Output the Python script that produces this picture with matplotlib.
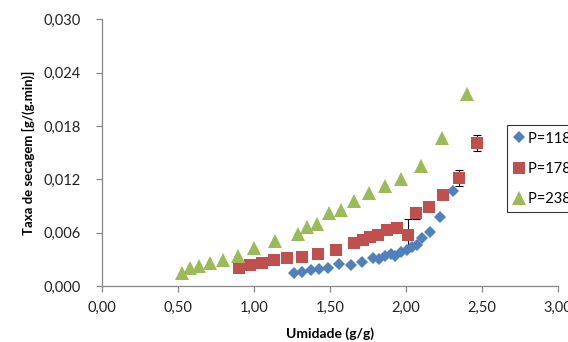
import matplotlib.pyplot as plt
import numpy as np
from matplotlib.ticker import FuncFormatter, MultipleLocator

# moisture content (g/g) and drying rate (g/(g.min)) for each power level
x_118 = [1.267, 1.320, 1.377, 1.432, 1.487, 1.561, 1.638, 1.713, 1.787, 1.824,
         1.864, 1.900, 1.930, 1.966, 2.008, 2.042, 2.072, 2.105, 2.160, 2.226, 2.309]
y_118 = [0.00143, 0.00161, 0.00180, 0.00188, 0.00206, 0.00248, 0.00236, 0.00270,
         0.00315, 0.00304, 0.00332, 0.00360, 0.00338, 0.00377, 0.00405, 0.00433,
         0.00461, 0.00537, 0.00611, 0.00780, 0.01072]

x_178 = [0.905, 0.978, 1.053, 1.134, 1.219, 1.320, 1.425, 1.539, 1.660, 1.717,
         1.768, 1.818, 1.880, 1.945, 2.012, 2.068, 2.155, 2.242, 2.349, 2.467]
y_178 = [0.00206, 0.00234, 0.00259, 0.00289, 0.00309, 0.00330, 0.00363, 0.00408,
         0.00484, 0.00518, 0.00551, 0.00577, 0.00630, 0.00653, 0.00574, 0.00818,
         0.00889, 0.01024, 0.01218, 0.01605]
err_178 = [0, 0, 0, 0, 0, 0, 0, 0, 0, 0,
           0, 0, 0, 0, 0.0018, 0.0007, 0.0006, 0, 0.0009, 0.0009]

x_238 = [0.526, 0.581, 0.642, 0.714, 0.800, 0.895, 1.002, 1.138, 1.293, 1.352,
         1.418, 1.495, 1.574, 1.662, 1.761, 1.862, 1.972, 2.099, 2.237, 2.405]
y_238 = [0.0015, 0.0020, 0.0022, 0.0026, 0.0029, 0.0034, 0.0043, 0.0050, 0.0058,
         0.0066, 0.0070, 0.0082, 0.0085, 0.0096, 0.0104, 0.0112, 0.0120, 0.0135,
         0.0166, 0.0216]

labels = ["P=118 W", "P=178 W", "P=238 W"]

plt.rcParams["font.family"] = ["Lato", "DejaVu Sans"]

fig = plt.figure(figsize=(5.68, 3.42), dpi=100)
ax = fig.add_axes([0.179, 0.164, 0.803, 0.7796])

ax.plot(x_118, y_118, "D", color="#4F81BD", markersize=6.3, markeredgewidth=0,
        label=labels[0], zorder=3)

err = np.array(err_178)
has_err = err > 0
ax.errorbar(np.array(x_178)[has_err], np.array(y_178)[has_err], yerr=err[has_err],
            fmt="none", ecolor="black", elinewidth=0.8, capsize=3, capthick=0.8,
            zorder=1)
ax.plot(x_178, y_178, "s", color="#C0504D", markersize=8.3, markeredgewidth=0,
        label=labels[1], zorder=2)
ax.plot(x_238, y_238, "^", color="#9BBB59", markersize=9.5, markeredgewidth=0,
        label=labels[2], zorder=2)

ax.set_xlim(0, 3.0)
ax.set_ylim(0, 0.030)
ax.xaxis.set_major_locator(MultipleLocator(0.5))
ax.yaxis.set_major_locator(MultipleLocator(0.006))
ax.xaxis.set_major_formatter(FuncFormatter(lambda v, _: f"{v:.2f}".replace(".", ",")))
ax.yaxis.set_major_formatter(FuncFormatter(lambda v, _: f"{v:.3f}".replace(".", ",")))

for side in ["top", "right"]:
    ax.spines[side].set_visible(False)
for side in ["left", "bottom"]:
    ax.spines[side].set_color("#868686")
    ax.spines[side].set_linewidth(0.9)
ax.tick_params(direction="out", length=4, width=0.9, color="#868686",
               labelsize=10.5, labelcolor="#222222")
ax.tick_params(axis="y", pad=11)
ax.tick_params(axis="x", pad=7)

ax.set_xlabel("Umidade (g/g)", fontsize=10, fontweight="bold", labelpad=9)
ax.set_ylabel("Taxa de secagem [g/(g.min)]", fontsize=9.5, fontweight="bold",
              labelpad=6)

leg = fig.legend(loc="upper left", bbox_to_anchor=(0.892, 1 - 125 / 342),
                 bbox_transform=fig.transFigure, frameon=True, fancybox=False,
                 fontsize=10.5, handlelength=0.8, handletextpad=0.2,
                 labelspacing=1.1, borderpad=0.45, borderaxespad=0)
leg.get_frame().set_edgecolor("black")
leg.get_frame().set_linewidth(0.8)

fig.savefig("out.png", dpi=100, facecolor="white")
